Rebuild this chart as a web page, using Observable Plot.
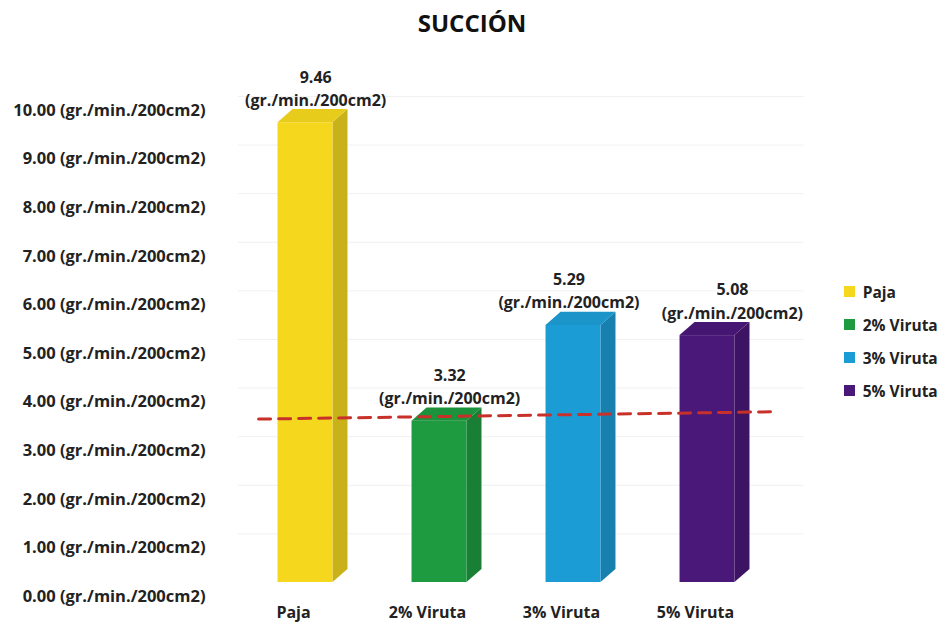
<!DOCTYPE html>
<html>
<head>
<meta charset="utf-8">
<script src="https://cdn.jsdelivr.net/npm/d3@7"></script>
<script src="https://cdn.jsdelivr.net/npm/@observablehq/plot@0.6"></script>
<style>
  body { margin: 0; background: #fff; font-family: "Open Sans", Lato, sans-serif; }
  #wrap { position: relative; width: 944px; height: 625px; overflow: hidden; }
  #title { height: 45px; line-height: 46px; text-align: center; font-weight: bold; font-size: 24px; color: #111; }
  #legend { position: absolute; left: 844px; top: 281px; }
  #legend .leg-swatch { display: flex; align-items: center; font-weight: bold; font-size: 15.5px; color: #222; margin-bottom: 11px; height: 21px; white-space: nowrap; }
</style>
</head>
<body>
<div id="wrap">
  <div id="title">SUCCIÓN</div>
  <div id="chart"></div>
  <div id="legend"></div>
</div>
<script>
// ---- data ----
const categorias = ["Paja", "2% Viruta", "3% Viruta", "5% Viruta"];
const valores = [9.46, 3.32, 5.29, 5.08];
const unidad = "(gr./min./200cm2)";
const ticksY = [0, 1, 2, 3, 4, 5, 6, 7, 8, 9, 10];
const colores = ["#F5D71E", "#1E9A40", "#1C9CD5", "#4A1878"];
// dashed reference line (start / end)
const refX = [-0.35, 3.47];
const refY = [3.65, 3.80];

// ---- geometry of the pseudo-3D bars (in data units) ----
const w = 0.41;     // front face width
const dX = 0.112;   // depth to the right
const dY = 0.27;    // depth upwards
const lift = -14;   // scene offset in px (3D floor)

const bars = categorias.map((c, i) => ({c, i, v: valores[i], lx: i + dX / 2 + 0.02}));
// nudge neighbouring value labels apart when they sit at similar heights
const labelW = 1.06, labelGap = 0.16, labelH = 1.0;
for (let i = 0; i < bars.length - 1; i++) {
  const a = bars[i], b = bars[i + 1];
  const need = labelW + labelGap - (b.lx - a.lx);
  if (Math.abs(a.v - b.v) < labelH && need > 0) { a.lx -= need / 2; b.lx += need / 2; }
}
const sideFace = bars.flatMap(b => [
  {c: b.c, x: b.i + w / 2, y1: 0, y2: b.v},
  {c: b.c, x: b.i + w / 2 + dX, y1: dY, y2: b.v + dY}
]);
const topFace = bars.flatMap(b => [
  {c: b.c, y: b.v, x1: b.i - w / 2, x2: b.i + w / 2},
  {c: b.c, y: b.v + dY, x1: b.i - w / 2 + dX, x2: b.i + w / 2 + dX}
]);
const ref = refX.map((x, k) => ({x, y: refY[k]}));

const col = c => colores[categorias.indexOf(c)];
const darker = c => d3.color(col(c)).darker(0.55).formatHex();
const topCol = c => d3.color(col(c)).darker(0.15).formatHex();

const chart = Plot.plot({
  width: 944,
  height: 580,
  marginLeft: 210,
  marginRight: 144,
  marginTop: 65,
  marginBottom: 29,
  style: {fontFamily: "'Open Sans', Lato, sans-serif", fontSize: "15.5px", fontWeight: "bold", color: "#222", background: "#fff"},
  x: {domain: [-0.5, 3.5], range: [238, 774], axis: null},
  y: {domain: [0, 10], axis: null},
  marks: [
    Plot.ruleY(ticksY.slice(1), {x1: -0.5, x2: 3.72, stroke: "#f1f1f1", strokeWidth: 1, dy: lift}),
    Plot.axisY(ticksY, {anchor: "left", tickSize: 0, tickPadding: 5,
      tickFormat: d => d.toFixed(2) + " " + unidad, fontWeight: "bold", fill: "#222", fontSize: 16.5}),
    Plot.axisX([0, 1, 2, 3], {anchor: "bottom", tickSize: 0, tickPadding: 10, dx: -12,
      tickFormat: i => categorias[i], fontWeight: "bold", fill: "#222", fontSize: 16}),
    Plot.areaY(sideFace, {x: "x", y1: "y1", y2: "y2", z: "c", fill: d => darker(d.c), dy: lift}),
    Plot.areaX(topFace, {y: "y", x1: "x1", x2: "x2", z: "c", fill: d => topCol(d.c), dy: lift}),
    Plot.rect(bars, {x1: d => d.i - w / 2, x2: d => d.i + w / 2, y1: 0, y2: "v", fill: d => col(d.c), dy: lift}),
    Plot.line(ref, {x: "x", y: "y", stroke: "#C8312A", strokeWidth: 3, strokeDasharray: "12,8"}),
    Plot.text(bars, {x: "lx", y: "v", text: d => d.v.toFixed(2) + "\n" + unidad,
      lineAnchor: "bottom", lineHeight: 1.45, dy: lift - 17, fill: "#222", fontWeight: "bold", fontSize: 16})
  ]
});
document.getElementById("chart").appendChild(chart);

const leg = Plot.legend({
  color: {type: "categorical", domain: categorias, range: colores},
  className: "leg",
  columns: 1,
  swatchSize: 11,
  style: {fontFamily: "'Open Sans', Lato, sans-serif"}
});
document.getElementById("legend").appendChild(leg);
</script>
</body>
</html>
